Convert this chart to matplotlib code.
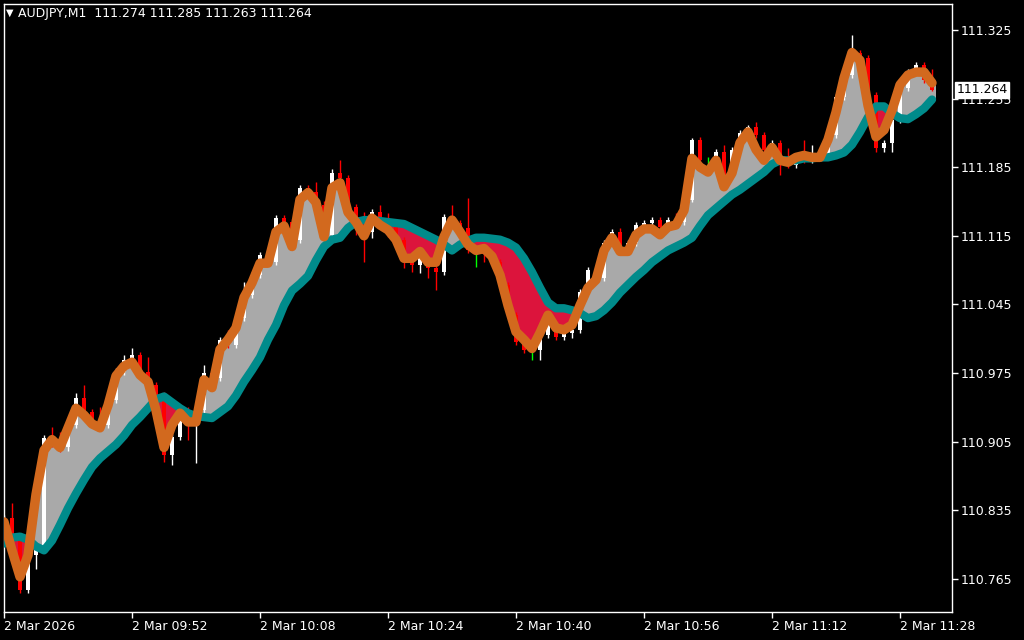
import numpy as np
import matplotlib
matplotlib.use("Agg")
import matplotlib.pyplot as plt
import matplotlib.transforms as mtransforms

# AUDJPY M1 bars, 09:36 .. 11:32 on 2 Mar 2026
first_open = 110.815
close = [110.827, 110.805, 110.754, 110.789, 110.794, 110.909, 110.902, 110.899, 110.922, 110.949,
         110.935, 110.927, 110.922, 110.947, 110.976, 110.988, 110.993, 110.976, 110.963, 110.953,
         110.891, 110.910, 110.937, 110.932, 110.937, 110.975, 110.970, 111.009, 111.004, 111.031,
         111.055, 111.075, 111.095, 111.088, 111.133, 111.129, 111.111, 111.164, 111.160, 111.146,
         111.116, 111.179, 111.174, 111.144, 111.129, 111.119, 111.139, 111.133, 111.125, 111.111,
         111.088, 111.085, 111.092, 111.082, 111.078, 111.134, 111.128, 111.123, 111.100, 111.100,
         111.096, 111.088, 111.065, 111.034, 111.007, 110.998, 110.998, 111.014, 111.026, 111.012,
         111.016, 111.019, 111.058, 111.080, 111.072, 111.108, 111.119, 111.104, 111.108, 111.126,
         111.128, 111.131, 111.124, 111.131, 111.129, 111.152, 111.213, 111.192, 111.192, 111.200,
         111.177, 111.203, 111.220, 111.226, 111.218, 111.203, 111.210, 111.195, 111.187, 111.194,
         111.192, 111.197, 111.195, 111.218, 111.257, 111.279, 111.301, 111.296, 111.259, 111.205,
         111.210, 111.233, 111.266, 111.282, 111.289, 111.274, 111.264]
high = [110.830, 110.842, 110.807, 110.792, 110.797, 110.912, 110.920, 110.915, 110.925, 110.955,
        110.963, 110.938, 110.940, 110.950, 110.980, 110.993, 111.000, 110.996, 110.991, 110.966,
        110.956, 110.913, 110.940, 110.940, 110.942, 110.983, 110.978, 111.012, 111.019, 111.034,
        111.068, 111.078, 111.098, 111.098, 111.136, 111.136, 111.132, 111.167, 111.167, 111.170,
        111.150, 111.183, 111.192, 111.177, 111.147, 111.139, 111.142, 111.146, 111.138, 111.128,
        111.114, 111.091, 111.095, 111.095, 111.085, 111.137, 111.146, 111.131, 111.154, 111.106,
        111.104, 111.099, 111.091, 111.068, 111.037, 111.010, 111.004, 111.017, 111.029, 111.029,
        111.019, 111.022, 111.061, 111.083, 111.083, 111.111, 111.122, 111.123, 111.111, 111.129,
        111.131, 111.134, 111.134, 111.134, 111.138, 111.155, 111.215, 111.216, 111.195, 111.204,
        111.208, 111.206, 111.223, 111.228, 111.231, 111.221, 111.213, 111.213, 111.205, 111.197,
        111.213, 111.208, 111.200, 111.221, 111.260, 111.282, 111.320, 111.305, 111.299, 111.262,
        111.213, 111.236, 111.269, 111.285, 111.292, 111.292, 111.285]
low = [110.812, 110.800, 110.750, 110.750, 110.775, 110.791, 110.899, 110.894, 110.895, 110.919,
       110.932, 110.924, 110.919, 110.919, 110.944, 110.973, 110.985, 110.973, 110.960, 110.949,
       110.884, 110.881, 110.907, 110.907, 110.883, 110.934, 110.967, 110.967, 111.000, 111.000,
       111.028, 111.052, 111.072, 111.085, 111.085, 111.126, 111.108, 111.108, 111.157, 111.143,
       111.111, 111.113, 111.171, 111.141, 111.116, 111.088, 111.113, 111.130, 111.114, 111.108,
       111.082, 111.078, 111.077, 111.072, 111.060, 111.075, 111.125, 111.120, 111.097, 111.083,
       111.088, 111.085, 111.062, 111.031, 111.004, 110.995, 110.988, 110.988, 111.011, 111.009,
       111.009, 111.011, 111.016, 111.055, 111.069, 111.069, 111.105, 111.100, 111.100, 111.105,
       111.123, 111.125, 111.121, 111.121, 111.126, 111.126, 111.149, 111.189, 111.187, 111.189,
       111.174, 111.174, 111.199, 111.217, 111.215, 111.199, 111.199, 111.177, 111.184, 111.184,
       111.189, 111.189, 111.192, 111.192, 111.215, 111.254, 111.276, 111.293, 111.256, 111.200,
       111.200, 111.200, 111.230, 111.263, 111.279, 111.271, 111.263]

# fast line (orange) and slow line (teal)
fast = [110.823, 110.794, 110.767, 110.789, 110.851, 110.896, 110.907, 110.899, 110.919, 110.939,
        110.932, 110.923, 110.919, 110.942, 110.972, 110.982, 110.986, 110.973, 110.966, 110.937,
        110.899, 110.922, 110.934, 110.925, 110.925, 110.968, 110.960, 110.999, 111.009, 111.021,
        111.052, 111.067, 111.087, 111.087, 111.119, 111.125, 111.104, 111.152, 111.159, 111.149,
        111.114, 111.164, 111.169, 111.139, 111.129, 111.115, 111.133, 111.126, 111.121, 111.111,
        111.092, 111.092, 111.099, 111.088, 111.088, 111.114, 111.131, 111.119, 111.106, 111.100,
        111.102, 111.094, 111.075, 111.044, 111.017, 111.009, 111.000, 111.016, 111.034, 111.021,
        111.019, 111.024, 111.044, 111.062, 111.070, 111.100, 111.113, 111.099, 111.099, 111.116,
        111.122, 111.122, 111.116, 111.124, 111.126, 111.141, 111.194, 111.185, 111.180, 111.192,
        111.165, 111.179, 111.210, 111.221, 111.203, 111.192, 111.205, 111.192, 111.190, 111.195,
        111.197, 111.195, 111.195, 111.213, 111.241, 111.276, 111.302, 111.294, 111.248, 111.216,
        111.223, 111.243, 111.269, 111.279, 111.282, 111.282, 111.271]
slow = [110.801, 110.807, 110.808, 110.805, 110.798, 110.794, 110.804, 110.820, 110.837, 110.852,
        110.866, 110.879, 110.888, 110.895, 110.902, 110.911, 110.922, 110.930, 110.939, 110.948,
        110.951, 110.945, 110.939, 110.934, 110.931, 110.930, 110.929, 110.935, 110.941, 110.952,
        110.966, 110.978, 110.991, 111.009, 111.024, 111.044, 111.059, 111.066, 111.074, 111.090,
        111.104, 111.111, 111.113, 111.123, 111.129, 111.131, 111.131, 111.130, 111.129, 111.128,
        111.127, 111.123, 111.119, 111.115, 111.111, 111.106, 111.100, 111.106, 111.110, 111.113,
        111.113, 111.112, 111.111, 111.108, 111.103, 111.092, 111.078, 111.062, 111.047, 111.041,
        111.041, 111.039, 111.036, 111.031, 111.033, 111.039, 111.047, 111.057, 111.065, 111.073,
        111.080, 111.088, 111.094, 111.100, 111.104, 111.108, 111.113, 111.125, 111.136, 111.143,
        111.150, 111.157, 111.162, 111.168, 111.174, 111.180, 111.188, 111.192, 111.192, 111.192,
        111.194, 111.194, 111.195, 111.195, 111.197, 111.200, 111.208, 111.221, 111.236, 111.247,
        111.247, 111.240, 111.235, 111.234, 111.239, 111.245, 111.254]

price_ticks = [110.765, 110.835, 110.905, 110.975, 111.045, 111.115, 111.185, 111.255, 111.325]
time_ticks = [0, 16, 32, 48, 64, 80, 96, 112]
time_labels = ["2 Mar 2026", "2 Mar 09:52", "2 Mar 10:08", "2 Mar 10:24",
               "2 Mar 10:40", "2 Mar 10:56", "2 Mar 11:12", "2 Mar 11:28"]
header = "AUDJPY,M1  111.274 111.285 111.263 111.264"
last_price = 111.264

close = np.array(close)
high = np.array(high)
low = np.array(low)
fast = np.array(fast)
slow = np.array(slow)
opn = np.r_[first_open, close[:-1]]
idx = np.arange(len(close))

plt.rcParams['font.family'] = ['DejaVu Sans']

fig = plt.figure(figsize=(10.24, 6.4), dpi=100, facecolor='black')
ax = fig.add_axes([4/1024, 28/640, 948/1024, 608/640])
ax.set_facecolor('black')

# histogram between the two lines
diff = fast - slow
fill_col = np.where(diff >= 0, '#A9A9A9', '#DC143C')
ax.bar(idx, diff, bottom=slow, width=1.0, color=fill_col, linewidth=0, zorder=1)

# candles
up = close > opn
dn = close < opn
col = np.where(up, 'white', np.where(dn, '#FF0000', '#00FF00'))
ax.vlines(idx, low, high, colors=col, linewidth=1, zorder=2)
body_bot = np.minimum(opn, close)
body_h = np.maximum(np.abs(close - opn), 0.0004)
ax.bar(idx, body_h, bottom=body_bot, width=0.62, color=col, linewidth=0, zorder=2)

# lines
ax.plot(idx, slow, color='#008B8B', linewidth=6, solid_capstyle='round', zorder=3)
ax.plot(idx, fast, color='#D2691E', linewidth=6.8, solid_capstyle='round', zorder=4)

ax.set_xlim(0, 118.5)
ax.set_ylim(110.7311, 111.3515)

for s in ax.spines.values():
    s.set_color('white')
    s.set_linewidth(1)

ax.yaxis.tick_right()
ax.set_yticks(price_ticks)
ax.set_yticklabels([f"{p:.3f}" for p in price_ticks])
ax.set_xticks(time_ticks)
ax.set_xticklabels(time_labels)
for lab in ax.get_xticklabels():
    lab.set_horizontalalignment('left')
ax.tick_params(axis='both', colors='white', labelcolor='white', length=4,
               width=1, direction='out', labelsize=9)
ax.tick_params(axis='y', pad=2)
ax.tick_params(axis='x', pad=2)

# current price label
trans = mtransforms.blended_transform_factory(ax.transAxes, ax.transData)
ax.text(1.005, last_price, f"{last_price:.3f}", transform=trans, color='black',
        fontsize=9, va='center', ha='left',
        bbox=dict(boxstyle='square,pad=0.12', facecolor='white', edgecolor='white'))

fig.text(6/1024, 1 - 13/640, "\u25BC", color='white', fontsize=7, va='center')
fig.text(18/1024, 1 - 13/640, header, color='white', fontsize=9, va='center')

fig.savefig('out.png', dpi=100, facecolor='black')
